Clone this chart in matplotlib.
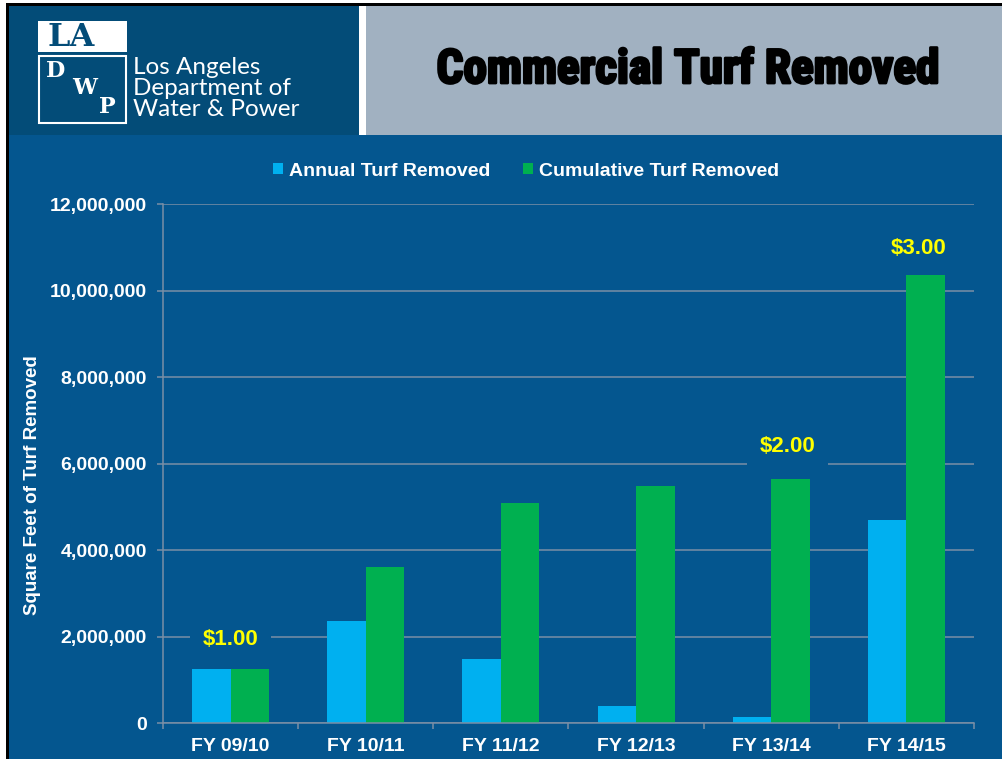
import matplotlib
matplotlib.use("Agg")
import matplotlib.pyplot as plt
import matplotlib.patheffects as pe
from matplotlib.patches import Rectangle
from matplotlib.ticker import FuncFormatter, FixedLocator
from matplotlib import font_manager

# data
years = ["FY 09/10", "FY 10/11", "FY 11/12", "FY 12/13", "FY 13/14", "FY 14/15"]
annual = [1.25e6, 2.36e6, 1.48e6, 0.39e6, 0.14e6, 4.69e6]
cumulative = [1.25e6, 3.61e6, 5.09e6, 5.49e6, 5.64e6, 10.35e6]
series_names = ["Annual Turf Removed", "Cumulative Turf Removed"]
price_labels = ["$1.00", "$2.00", "$3.00"]
price_x = [0.0, 4.12, 5.09]
price_y = [1.94e6, 6.4e6, 10.98e6]

BG = "#04568F"
HEADER_DARK = "#034C78"
HEADER_GRAY = "#A1B1C1"
C_ANNUAL = "#00B0F0"
C_CUM = "#00B050"
GRID = "#7A8FA6"

W, H = 1003, 759
names = {f.name for f in font_manager.fontManager.ttflist}


def first_font(*cands):
    for c in cands:
        if c in names:
            return c
    return "DejaVu Sans"


sans = first_font("Liberation Sans", "DejaVu Sans")
narrow = first_font("Liberation Sans Narrow", "Roboto Condensed",
                    "DejaVu Sans Condensed", "Open Sans Condensed")
plt.rcParams["font.family"] = [sans, "DejaVu Sans"]

fig = plt.figure(figsize=(W / 100, H / 100), dpi=100, facecolor=BG)


def box(x0, y0, x1, y1, **kw):
    fig.add_artist(Rectangle((x0 / W, 1 - y1 / H), (x1 - x0) / W, (y1 - y0) / H,
                             transform=fig.transFigure, **kw))


def ftext(x, y, s, **kw):
    return fig.text(x / W, 1 - y / H, s, **kw)


# page frame and header
box(0, 0, W, 3, color="white", lw=0)
box(0, 0, 6, H, color="white", lw=0)
box(6, 3, W, 6, color="black", lw=0)
box(6, 3, 9, H, color="black", lw=0)
box(9, 6, 359, 135, color=HEADER_DARK, lw=0)
box(359, 6, 366, 135, color="white", lw=0)
box(366, 6, W, 135, color=HEADER_GRAY, lw=0)

# logo
box(38, 21, 127, 52, color="white", lw=0)
box(39, 56, 126, 123, fill=False, ec="white", lw=1.5)
ftext(71, 37, "LA", color=HEADER_DARK, fontsize=23, fontweight="bold",
      family="DejaVu Serif", ha="center", va="center")
for s, x, y in [("D", 56, 71), ("W", 85, 88), ("P", 107, 107)]:
    ftext(x, y, s, color="white", fontsize=16, fontweight="bold",
          family="DejaVu Serif", ha="center", va="center")
for i, line in enumerate(["Los Angeles", "Department of", "Water & Power"]):
    ftext(133, 67 + 21.5 * i, line, color="white", fontsize=17.5,
          family="Lato", ha="left", va="center")

if narrow == "DejaVu Sans":
    t = ftext(688, 70, "Commercial Turf Removed", color="black", fontsize=28,
              fontweight="bold", family=sans, ha="center", va="center")
else:
    t = ftext(688, 70, "Commercial Turf Removed", color="black", fontsize=34,
              fontweight="bold", family=narrow, ha="center", va="center")
t.set_path_effects([pe.withStroke(linewidth=2, foreground="black")])

# chart
ax = fig.add_axes([163 / W, 1 - 723 / H, (974 - 163) / W, (723 - 204) / H])
ax.set_facecolor("none")

n = len(years)
xs = list(range(n))
bw = 0.285
ax.bar([x - bw / 2 for x in xs], annual, width=bw, color=C_ANNUAL,
       label=series_names[0], zorder=2)
ax.bar([x + bw / 2 for x in xs], cumulative, width=bw, color=C_CUM,
       label=series_names[1], zorder=2)

ax.set_xlim(-0.5, n - 0.5)
ax.set_ylim(0, 12e6)
ax.yaxis.set_major_locator(FixedLocator([i * 2e6 for i in range(7)]))
ax.yaxis.set_major_formatter(FuncFormatter(lambda v, p: f"{int(v):,}"))
ax.set_xticks(xs)
ax.set_xticklabels(years)
ax.xaxis.set_minor_locator(FixedLocator([x - 0.5 for x in range(n + 1)]))

ax.grid(axis="y", color=GRID, linewidth=1.1)
ax.set_axisbelow(True)
for side in ("top", "right"):
    ax.spines[side].set_visible(False)
for side in ("left", "bottom"):
    ax.spines[side].set_color(GRID)
    ax.spines[side].set_linewidth(1.1)

ax.tick_params(axis="y", colors=GRID, length=4.5, width=1.1, pad=7,
               labelcolor="white", labelsize=14)
ax.tick_params(axis="x", which="major", length=0, pad=11,
               labelcolor="white", labelsize=14)
ax.tick_params(axis="x", which="minor", length=4, width=1.1, colors=GRID)
for lab in ax.get_xticklabels() + ax.get_yticklabels():
    lab.set_fontweight("bold")

ftext(33, 485, "Square Feet of Turf Removed", color="white", fontsize=13.5,
      fontweight="bold", rotation=90, ha="center", va="center")

for s, x, y in zip(price_labels, price_x, price_y):
    ax.text(x, y, s, color="#FFFF00", fontsize=16, fontweight="bold",
            ha="center", va="center", zorder=3,
            bbox=dict(boxstyle="square,pad=0.55", fc=BG, ec="none"))

fig.legend(loc="center", bbox_to_anchor=(526 / W, 1 - 171 / H), ncol=2,
           frameon=False, handlelength=0.5, handleheight=0.5,
           handletextpad=0.3, columnspacing=1.7, labelcolor="white",
           prop={"weight": "bold", "size": 14})

fig.savefig("out.png", dpi=100, facecolor=BG)
